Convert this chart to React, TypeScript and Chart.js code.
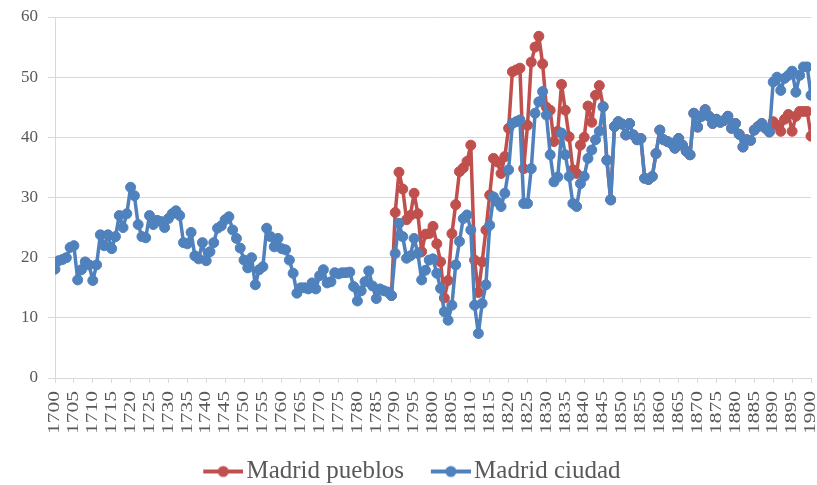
import React, { useEffect, useRef } from "react";
import { Chart, registerables } from "chart.js";

Chart.register(...registerables);

const START_YEAR = 1700;
const END_YEAR = 1900;
const YEARS: number[] = Array.from({ length: END_YEAR - START_YEAR + 1 }, (_, i) => START_YEAR + i);

// Madrid ciudad, 1700–1900
const CIUDAD: number[] = [
  18.1, 19.5, 19.7, 20.0, 21.7, 22.0, 16.3, 18.0, 19.3, 18.8,
  16.2, 18.8, 23.8, 22.0, 23.8, 21.5, 23.5, 27.0, 25.0, 27.3,
  31.7, 30.3, 25.5, 23.5, 23.3, 27.0, 25.5, 26.2, 26.0, 25.0,
  26.5, 27.3, 27.8, 27.0, 22.5, 22.3, 24.2, 20.3, 19.8, 22.5,
  19.5, 21.0, 22.5, 24.9, 25.3, 26.3, 26.8, 24.6, 23.2, 21.6,
  19.6, 18.3, 20.0, 15.5, 18.0, 18.5, 24.9, 23.5, 21.8, 23.2,
  21.5, 21.3, 19.6, 17.4, 14.1, 15.0, 15.0, 14.8, 15.8, 14.8,
  17.0, 18.0, 15.8, 16.0, 17.5, 17.3, 17.5, 17.5, 17.6, 15.2,
  12.8, 14.5, 16.0, 17.8, 15.3, 13.2, 14.8, 14.5, 14.3, 13.7,
  20.7, 25.7, 23.5, 19.9, 20.3, 23.2, 20.7, 16.3, 17.9, 19.6,
  19.8, 17.4, 14.9, 11.0, 9.6, 12.1, 18.8, 22.7, 26.5, 27.1,
  24.6, 12.1, 7.4, 12.4, 15.5, 25.4, 30.1, 29.3, 28.5, 30.7,
  34.6, 42.3, 42.6, 42.9, 29.0, 29.0, 34.8, 44.0, 45.9, 47.6,
  43.7, 37.1, 32.6, 33.4, 40.7, 37.1, 33.5, 29.0, 28.5, 32.3,
  33.5, 36.5, 37.9, 39.6, 41.0, 45.1, 36.2, 29.6, 41.8, 42.6,
  42.2, 40.4, 42.3, 40.4, 39.6, 39.8, 33.2, 33.0, 33.5, 37.3,
  41.2, 39.6, 39.3, 39.0, 38.2, 39.8, 38.7, 37.7, 37.1, 44.0,
  41.7, 43.5, 44.6, 43.5, 42.3, 43.0, 42.5, 42.8, 43.5, 41.5,
  42.3, 40.5, 38.4, 39.6, 39.5, 41.2, 41.8, 42.3, 41.5, 40.9,
  49.2, 50.0, 47.8, 49.8, 50.3, 51.0, 47.5, 50.3, 51.7, 51.7,
  47.0,
];

// Madrid pueblos, 1789–1900
const PUEBLOS_START = 1789;
const PUEBLOS: number[] = [
  13.7,
  27.5, 34.2, 31.4, 26.3, 27.0, 30.7, 27.3, 21.0, 23.9, 24.0,
  25.2, 22.3, 19.3, 13.3, 16.2, 24.0, 28.8, 34.3, 34.9, 36.0,
  38.7, 19.6, 14.2, 19.3, 24.6, 30.4, 36.5, 35.9, 34.0, 36.8,
  41.5, 50.9, 51.2, 51.5, 34.8, 42.0, 52.5, 55.0, 56.8, 52.2,
  45.0, 44.5, 39.3, 41.0, 48.8, 44.5, 40.1, 34.6, 34.0, 38.7,
  40.0, 45.2, 42.5, 47.0, 48.6, 45.1, 36.2, 29.6, 41.8, 42.6,
  42.2, 40.4, 42.3, 40.4, 39.6, 39.8, 33.2, 33.0, 33.5, 37.3,
  41.2, 39.6, 39.3, 39.0, 38.2, 39.8, 38.7, 37.7, 37.1, 44.0,
  41.7, 43.5, 44.6, 43.5, 42.3, 43.0, 42.5, 42.8, 43.5, 41.5,
  42.3, 40.5, 38.4, 39.6, 39.5, 41.2, 41.8, 42.3, 41.5, 40.9,
  42.6, 42.0, 41.0, 43.0, 43.8, 41.0, 43.5, 44.3, 44.3, 44.3,
  40.2,
];

const SERIES_LABELS = ["Madrid pueblos", "Madrid ciudad"];
const SERIES_COLORS = ["#C0504D", "#4F81BD"];
const Y_MIN = 0;
const Y_MAX = 60;
const Y_STEP = 10;
const X_STEP = 5;

const FONT = "'Liberation Serif', 'Times New Roman', serif";
const TEXT_COLOR = "#595959";
const GRID_COLOR = "#D9D9D9";

function makeLegendIcon(color: string): HTMLCanvasElement {
  const c = document.createElement("canvas");
  c.width = 72;
  c.height = 14;
  const ctx = c.getContext("2d")!;
  ctx.strokeStyle = color;
  ctx.fillStyle = color;
  ctx.lineWidth = 4;
  ctx.beginPath();
  ctx.moveTo(32, 7);
  ctx.lineTo(72, 7);
  ctx.stroke();
  ctx.beginPath();
  ctx.arc(52, 7, 5.5, 0, Math.PI * 2);
  ctx.fill();
  return c;
}

export default function App() {
  const ref = useRef<HTMLCanvasElement | null>(null);

  useEffect(() => {
    if (!ref.current) return;
    const icons = SERIES_COLORS.map(makeLegendIcon);

    const pueblosPts = PUEBLOS.map((v, i) => ({ x: PUEBLOS_START + i, y: v }));
    const ciudadPts = YEARS.map((yr, i) => ({ x: yr, y: CIUDAD[i] }));

    const legendShift = {
      id: "legendShift",
      afterLayout(chart: any) {
        const l = chart.legend;
        if (l) {
          l.top += 9;
          l.bottom += 9;
          l.left -= 5;
          l.right -= 5;
        }
      },
    };

    // rotated, slightly condensed year labels placed at the x scale's tick positions
    const xTickLabels = {
      id: "xTickLabels",
      afterDraw(chart: any) {
        const s = chart.scales.x;
        const ctx = chart.ctx;
        ctx.save();
        ctx.fillStyle = TEXT_COLOR;
        ctx.font = `21.5px ${FONT}`;
        ctx.textAlign = "right";
        ctx.textBaseline = "middle";
        for (const t of s.ticks) {
          const x = s.getPixelForValue(t.value);
          ctx.save();
          ctx.translate(x, s.top + 13);
          ctx.rotate(-Math.PI / 2);
          ctx.scale(1, 0.75);
          ctx.fillText(String(t.value), 0, 0);
          ctx.restore();
        }
        ctx.restore();
      },
    };

    const common = {
      borderWidth: 3.5,
      borderJoinStyle: "round",
      borderCapStyle: "round",
      pointRadius: 5,
      pointBorderWidth: 1,
      tension: 0,
    };

    const chart = new Chart(ref.current, {
      type: "line",
      data: {
        datasets: [
          {
            label: SERIES_LABELS[0],
            data: pueblosPts,
            borderColor: SERIES_COLORS[0],
            backgroundColor: SERIES_COLORS[0],
            pointBackgroundColor: SERIES_COLORS[0],
            pointBorderColor: SERIES_COLORS[0],
            order: 1,
            ...common,
          },
          {
            label: SERIES_LABELS[1],
            data: ciudadPts,
            borderColor: SERIES_COLORS[1],
            backgroundColor: SERIES_COLORS[1],
            pointBackgroundColor: SERIES_COLORS[1],
            pointBorderColor: SERIES_COLORS[1],
            order: 0,
            ...common,
          },
        ],
      },
      options: {
        responsive: false,
        animation: false,
        layout: { padding: { left: 0, right: 6, top: 17, bottom: 0 } },
        scales: {
          x: {
            type: "linear",
            min: START_YEAR,
            max: END_YEAR,
            afterFit: (s: any) => {
              s.height = 68;
              s.paddingLeft = 0;
              s.paddingRight = 0;
            },
            ticks: {
              stepSize: X_STEP,
              autoSkip: false,
              display: false,
              callback: (v: any) => String(v),
            },
            grid: {
              drawOnChartArea: false,
              drawTicks: true,
              tickLength: 5,
              color: GRID_COLOR,
            },
            border: { display: true, color: GRID_COLOR },
          },
          y: {
            type: "linear",
            min: Y_MIN,
            max: Y_MAX,
            afterFit: (s: any) => {
              s.width = 55;
              s.paddingTop = 0;
              s.paddingBottom = 0;
            },
            ticks: {
              stepSize: Y_STEP,
              padding: 10,
              color: TEXT_COLOR,
              font: { family: FONT, size: 17 },
            },
            grid: { color: GRID_COLOR, tickLength: 7 },
            border: { display: true, color: GRID_COLOR },
          },
        },
        plugins: {
          tooltip: { enabled: false },
          legend: {
            position: "bottom",
            labels: {
              usePointStyle: true,
              pointStyleWidth: 53.5,
              padding: 4,
              color: TEXT_COLOR,
              font: { family: FONT, size: 25 },
              generateLabels: (ch: any) =>
                ch.data.datasets.map((ds: any, i: number) => ({
                  text: ds.label,
                  fillStyle: ds.borderColor,
                  strokeStyle: ds.borderColor,
                  fontColor: TEXT_COLOR,
                  lineWidth: 0,
                  pointStyle: icons[i],
                  hidden: false,
                  datasetIndex: i,
                })),
            },
          },
        },
      },
      plugins: [legendShift, xTickLabels],
    } as any);

    return () => chart.destroy();
  }, []);

  return (
    <div style={{ position: "fixed", left: 0, top: 0, width: 817, height: 485, background: "#fff" }}>
      <canvas ref={ref} width={817} height={485} style={{ display: "block" }} />
    </div>
  );
}
